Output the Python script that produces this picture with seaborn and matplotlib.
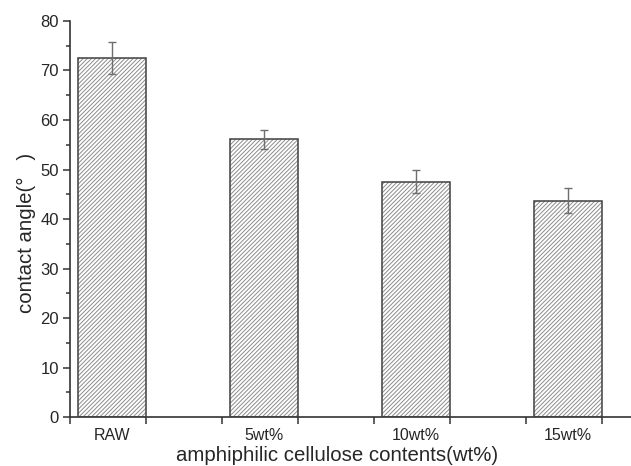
import matplotlib
matplotlib.use("Agg")
import matplotlib.pyplot as plt
import seaborn as sns
import numpy as np
import pandas as pd
from matplotlib.patches import Rectangle
from matplotlib.ticker import MultipleLocator, FixedLocator

categories = ["RAW", "5wt%", "10wt%", "15wt%"]
angles = [72.5, 56.1, 47.5, 43.7]
errors = [3.2, 1.9, 2.3, 2.5]

sns.set_style("ticks")
plt.rcParams["font.family"] = ["Liberation Sans", "DejaVu Sans"]
plt.rcParams["hatch.linewidth"] = 0.7

df = pd.DataFrame({"cat": categories, "angle": angles})

fig = plt.figure(figsize=(6.31, 4.66), dpi=100)
ax = fig.add_axes([0.111, 0.105, 0.889, 0.850])

sns.barplot(data=df, x="cat", y="angle", ax=ax, width=0.45, color="white",
            edgecolor="#8c8c8c", linewidth=0, errorbar=None, hatch="////////")

for p in list(ax.patches):
    ax.add_patch(Rectangle(p.get_xy(), p.get_width(), p.get_height(),
                           facecolor="none", edgecolor="#404040", linewidth=1.1, zorder=3))

xpos = np.arange(len(categories))
ax.errorbar(xpos, angles, yerr=errors, fmt="none", ecolor="#6e6e6e",
            elinewidth=1.0, capsize=3, capthick=1.0, zorder=4)

ax.set_ylim(0, 80)
ax.set_xlim(-0.276, 3.414)
ax.yaxis.set_major_locator(MultipleLocator(10))
ax.yaxis.set_minor_locator(MultipleLocator(5))

ax.set_xticks(xpos)
ax.set_xticklabels(categories)
ax.xaxis.set_minor_locator(FixedLocator(list(xpos - 0.276) + list(xpos + 0.225)))

ax.tick_params(axis="x", which="major", length=0, pad=8, labelsize=11.5)
ax.tick_params(axis="x", which="minor", length=5, width=1.1, color="#333333")
ax.tick_params(axis="y", which="major", length=5, width=1.1, labelsize=12, color="#333333", pad=3)
ax.tick_params(axis="y", which="minor", length=3, width=1.1, color="#333333")

for s in ["top", "right"]:
    ax.spines[s].set_visible(False)
for s in ["left", "bottom"]:
    ax.spines[s].set_linewidth(1.2)
    ax.spines[s].set_color("#333333")

ax.set_xlabel("amphiphilic cellulose contents(wt%)", fontsize=14.7, va="center")
ax.xaxis.set_label_coords(0.476, -0.096)
ax.set_ylabel("contact angle(°   )", fontsize=14.7, va="center")
ax.yaxis.set_label_coords(-0.077, 0.465)

fig.savefig("out.png", dpi=100)
